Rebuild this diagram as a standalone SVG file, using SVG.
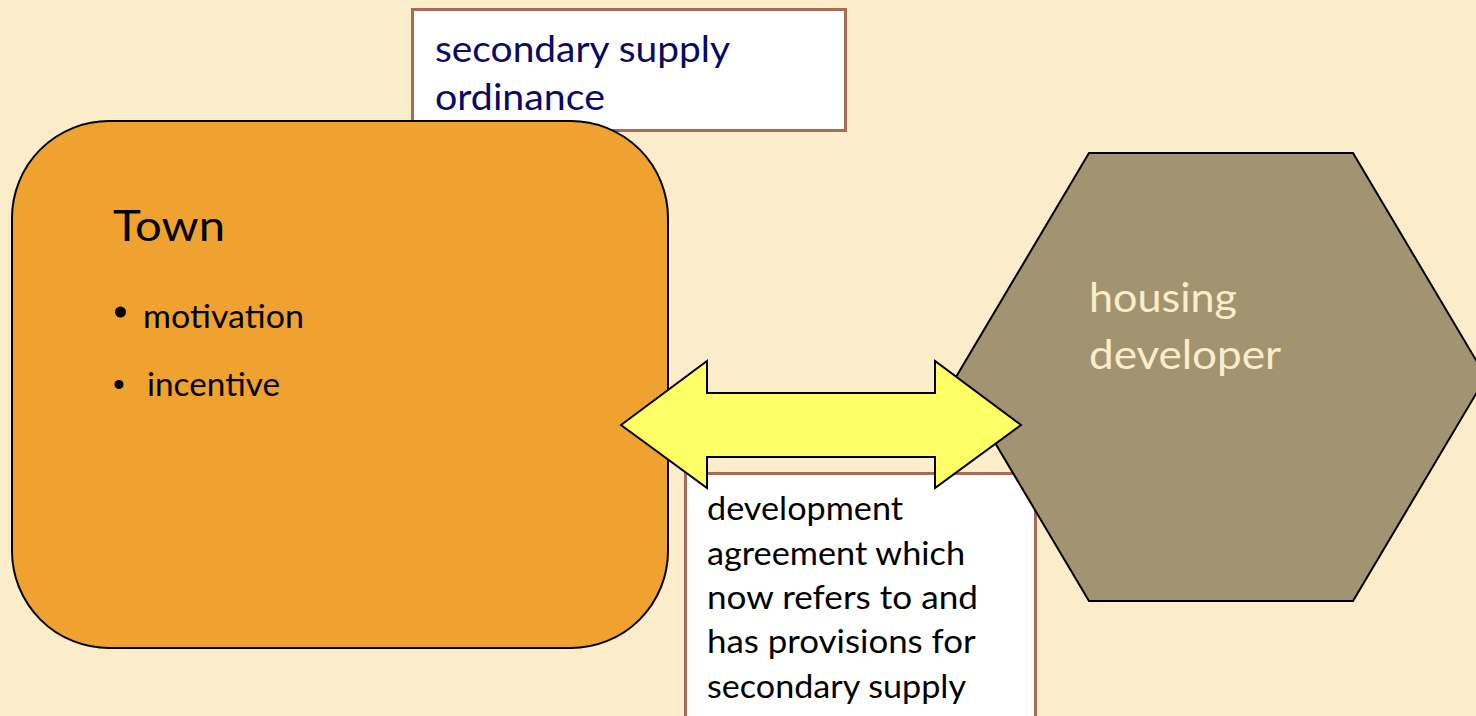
<svg xmlns="http://www.w3.org/2000/svg" width="1476" height="716" viewBox="0 0 1476 716">
<style>
.t{font-family:Lato,"Open Sans","Liberation Sans",sans-serif}
.box{fill:#FFFFFF;stroke:#A86B55;stroke-width:3}
.dark{fill:#000000}
</style>
<rect x="0" y="0" width="1476" height="716" fill="#FCEDCA"/>
<g id="ordinance">
<rect class="box" x="412.5" y="9.5" width="433" height="121"/>
<text class="t" x="435" y="62" font-size="37.5" fill="#0A0A64" textLength="295" lengthAdjust="spacingAndGlyphs">secondary supply</text>
<text class="t" x="435" y="110" font-size="37.5" fill="#0A0A64" textLength="170" lengthAdjust="spacingAndGlyphs">ordinance</text>
</g>
<g id="town">
<rect x="12" y="121" width="656" height="527" rx="97" ry="97" fill="#EFA22F" stroke="#000" stroke-width="2"/>
<text class="t dark" x="113" y="241" font-size="42" textLength="112" lengthAdjust="spacingAndGlyphs">Town</text>
<circle cx="120.5" cy="312" r="5.5" fill="#000"/>
<text class="t dark" x="143" y="328" font-size="32" textLength="161" lengthAdjust="spacingAndGlyphs">motivation</text>
<circle cx="119" cy="384.5" r="4.5" fill="#000"/>
<text class="t dark" x="147" y="396" font-size="32" textLength="133" lengthAdjust="spacingAndGlyphs">incentive</text>
</g>
<g id="agreement">
<rect class="box" x="685.5" y="473.5" width="350" height="260"/>
<text class="t dark" font-size="33.5">
<tspan x="707" y="520" textLength="196" lengthAdjust="spacingAndGlyphs">development</tspan>
<tspan x="707" y="565" textLength="258" lengthAdjust="spacingAndGlyphs">agreement which</tspan>
<tspan x="707" y="609" textLength="271" lengthAdjust="spacingAndGlyphs">now refers to and</tspan>
<tspan x="707" y="653" textLength="268" lengthAdjust="spacingAndGlyphs">has provisions for</tspan>
<tspan x="707" y="698" textLength="259" lengthAdjust="spacingAndGlyphs">secondary supply</tspan>
</text>
</g>
<g id="developer">
<polygon points="1089,153 1353,153 1486,377 1353,601 1089,601 956,377" fill="#A29471" stroke="#000" stroke-width="2"/>
<text class="t" x="1089" y="312" font-size="40" fill="#FCEDCA" textLength="148" lengthAdjust="spacingAndGlyphs">housing</text>
<text class="t" x="1089" y="369" font-size="40" fill="#FCEDCA" textLength="192" lengthAdjust="spacingAndGlyphs">developer</text>
</g>
<g id="connectors">
<polygon points="621,425 707,361 707,393 935,393 935,361 1021,425 935,488 935,457 707,457 707,488" fill="#FFFF66" stroke="#000" stroke-width="2" stroke-linejoin="miter"/>
</g>
</svg>
